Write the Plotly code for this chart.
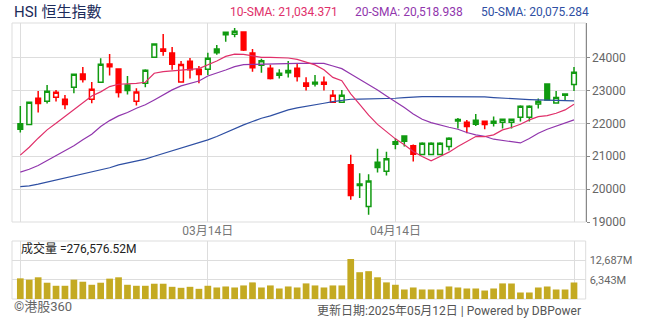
import plotly.graph_objects as go

# ---- daily bars (index 0 .. 62) ----
idx = list(range(63))

opens = [21986, 21965, 22766, 22674, 22796, 22735, 23100, 23505, 22735, 23252,
         23808, 23657, 23171, 22674, 23221, 24011, 24193, 24143, 23262, 23889,
         23646, 23646, 24264, 24700, 24710, 24781, 24143, 23768, 23677, 23525,
         23606, 23677, 23231, 23252, 23252, 22644, 22644, 20739, 20153, 19474,
         20820, 20547, 21367, 21620, 21317, 21054, 21054, 21054, 21297, 22116,
         22035, 22096, 22066, 22066, 22035, 22035, 22187, 22187, 22593, 23201,
         22624, 22897, 23181]
highs = [22533, 22643, 22988, 23171, 23019, 22867, 23495, 23717, 23262, 23980,
         24112, 23657, 23444, 23069, 23647, 24420, 24720, 24325, 23900, 23991,
         23748, 24153, 24386, 24771, 24902, 24781, 24264, 23970, 23788, 23646,
         23900, 23829, 23403, 23474, 23424, 23019, 23019, 21043, 20486, 20456,
         21225, 21135, 21549, 21620, 21357, 21428, 21428, 21428, 21580, 22167,
         22106, 22289, 22066, 22208, 22126, 22126, 22552, 22552, 22755, 23221,
         22988, 22917, 23717]
lows = [21723, 21965, 22330, 22604, 22664, 22431, 22917, 23241, 22613, 23252,
        23454, 22786, 22877, 22542, 23100, 24011, 24062, 23636, 23241, 23363,
        23221, 23474, 24092, 24487, 24619, 24204, 23575, 23545, 23333, 23363,
        23394, 23272, 22998, 23120, 22998, 22644, 22644, 19676, 19727, 19221,
        20506, 20415, 21215, 21297, 20841, 21054, 21054, 21054, 21175, 21843,
        21701, 21924, 21823, 21904, 21843, 21843, 22056, 22056, 22451, 22694,
        22604, 22694, 22988]
closes = [21824, 22643, 22604, 22978, 22948, 22573, 23495, 23333, 23039, 23798,
          23727, 22938, 22998, 22958, 23616, 24416, 24264, 23800, 23795, 23636,
          23485, 23980, 24153, 24771, 24801, 24234, 23697, 23909, 23363, 23464,
          23545, 23424, 23130, 23201, 23191, 22857, 22857, 19808, 20112, 20244,
          20658, 20922, 21438, 21459, 21064, 21398, 21398, 21398, 21549, 22076,
          21904, 21975, 21968, 22005, 22126, 22126, 22522, 22522, 22674, 22715,
          22786, 22857, 23555]

# turnover, millions
volume_m = [6780, 6340, 7120, 5340, 4340, 4340, 6340, 5670, 4670, 5340,
            6680, 7120, 4670, 4340, 4340, 5010, 5010, 4000, 3670, 4000,
            3340, 4340, 3780, 4110, 3780, 4450, 5450, 3780, 4450, 3450,
            4110, 3780, 5120, 4450, 3780, 4450, 4450, 13130, 8790, 9130,
            7120, 5450, 4670, 3120, 3780, 3120, 3120, 3120, 4110, 3780,
            3450, 3450, 2780, 3450, 5120, 5120, 2110, 2110, 3780, 4110,
            3120, 3120, 5450]

sma10 = [21034.371, 21276, 21550, 21803, 22005, 22208, 22431, 22613, 22836, 22960,
         23120, 23191, 23201, 23221, 23252, 23525, 23576, 23606, 23626, 23646,
         23666, 23778, 23900, 24040, 24110, 24100, 24050, 24010, 24010, 24010,
         23990, 23950, 23860, 23780, 23630, 23400, 23300, 22900, 22580, 22250,
         21970, 21740, 21530, 21347, 21145, 20993, 20861, 20993, 21125, 21297,
         21449, 21600, 21600, 21651, 21803, 21874, 21975, 22106, 22208, 22238,
         22309, 22410, 22583]
sma20 = [20518.938, 20605, 20720, 20870, 21045, 21180, 21320, 21500, 21670, 21905,
         22085, 22228, 22330, 22460, 22565, 22715, 22870, 23020, 23140, 23220,
         23290, 23444, 23525, 23626, 23727, 23788, 23798, 23808, 23808, 23818,
         23828, 23828, 23828, 23828, 23828, 23747, 23666, 23505, 23343, 23201,
         23019, 22836, 22670, 22481, 22289, 22126, 22025, 21944, 21884, 21823,
         21722, 21651, 21610, 21519, 21479, 21438, 21405, 21540, 21702, 21823,
         21924, 22005, 22106]
sma50 = [20075.284, 20100, 20152, 20212, 20284, 20344, 20405, 20466, 20527, 20587,
         20650, 20739, 20790, 20841, 20912, 21000, 21080, 21160, 21250, 21330,
         21410, 21499, 21600, 21722, 21833, 21955, 22056, 22157, 22228, 22330,
         22411, 22471, 22512, 22562, 22613, 22664, 22704, 22735, 22740, 22745,
         22748, 22755, 22765, 22786, 22806, 22816, 22816, 22816, 22816, 22816,
         22816, 22816, 22806, 22786, 22765, 22745, 22735, 22725, 22715, 22705,
         22695, 22685, 22685]

tick_idx = [0, 21, 42, 62]
tick_text = ["", "03月14日", "04月14日", ""]
price_ticks = [19000, 20000, 21000, 22000, 23000, 24000]
vol_ticks = [6343, 12687]
vol_tick_text = ["6,343M", "12,687M"]

GREEN = "#109a10"
RED = "#ff0000"
FONT = "Roboto, 'Noto Sans CJK TC', sans-serif"
W, H = 654, 325

fig = go.Figure()

# moving averages
for vals, color in [(sma50, "#2e4fa3"), (sma20, "#9136ad"), (sma10, "#e0306a")]:
    fig.add_trace(go.Scatter(x=idx, y=vals, mode="lines",
                             line=dict(color=color, width=1.2),
                             hoverinfo="skip", showlegend=False,
                             xaxis="x", yaxis="y"))

# candles: colour by change vs previous close, hollow when close > open
groups = {}
for i in idx:
    up = i == 0 or closes[i] >= closes[i - 1]
    hollow = closes[i] > opens[i]
    groups.setdefault((up, hollow), []).append(i)

for (up, hollow), members in groups.items():
    col = GREEN if up else RED
    fill = "#ffffff" if hollow else col
    style = dict(line=dict(color=col, width=1.5), fillcolor=fill)
    fig.add_trace(go.Candlestick(
        x=members,
        open=[opens[i] for i in members],
        high=[highs[i] for i in members],
        low=[lows[i] for i in members],
        close=[closes[i] for i in members],
        increasing=style, decreasing=style,
        whiskerwidth=0, showlegend=False, hoverinfo="skip",
        xaxis="x", yaxis="y"))

# turnover bars
fig.add_trace(go.Bar(x=idx, y=volume_m, marker=dict(color="#c4aa22", line=dict(width=0)),
                     width=0.75, showlegend=False, hoverinfo="skip",
                     xaxis="x2", yaxis="y2"))

x_dom = [12 / W, 585.7 / W]
price_dom = [(H - 222) / H, (H - 23) / H]
vol_dom = [(H - 299) / H, (H - 241) / H]
x_range = [-0.93, 63.31]

fig.update_layout(
    template="none",
    width=W, height=H,
    margin=dict(l=0, r=0, t=0, b=0, pad=0, autoexpand=False),
    paper_bgcolor="white", plot_bgcolor="white",
    font=dict(family=FONT),
    boxgap=0.25,
    xaxis=dict(domain=x_dom, range=x_range, anchor="y", automargin=False,
               tickmode="array", tickvals=tick_idx, ticktext=tick_text,
               ticks="", showgrid=True, gridcolor="#dddddd", gridwidth=1,
               zeroline=False, showline=False,
               tickfont=dict(size=12, color="#777777"),
               rangeslider=dict(visible=False)),
    xaxis2=dict(domain=x_dom, range=x_range, anchor="y2", matches="x", automargin=False,
                tickmode="array", tickvals=tick_idx, showticklabels=False,
                ticks="", showgrid=True, gridcolor="#dddddd", gridwidth=1,
                zeroline=False, showline=False),
    yaxis=dict(domain=price_dom, range=[19000, 25055], side="right", anchor="x",
               automargin=False,
               tickmode="array", tickvals=price_ticks,
               ticktext=[str(v) for v in price_ticks],
               ticks="outside", ticklen=3, tickcolor="#888888",
               showline=True, linecolor="#888888", linewidth=1,
               showgrid=True, gridcolor="#dddddd", zeroline=False,
               tickfont=dict(size=12, color="#666666")),
    yaxis2=dict(domain=vol_dom, range=[0, 19030], side="right", anchor="x2",
                automargin=False,
                tickmode="array", tickvals=vol_ticks, ticktext=vol_tick_text,
                ticks="", ticklabelstandoff=3, showline=False,
                showgrid=True, gridcolor="#dddddd", zeroline=False,
                tickfont=dict(size=11, color="#666666")),
)

# panel frames
for xr, yr in [("x domain", "y domain"), ("x2 domain", "y2 domain")]:
    fig.add_shape(type="rect", xref=xr, yref=yr, x0=0, x1=1, y0=0, y1=1,
                  line=dict(color="#dddddd", width=1), layer="below")

def px_x(p):
    return p / W

def px_y(p):
    return 1 - p / H

notes = [
    (12, 12.5, "HSI 恒生指數", 15, "#1c2b5a", "left"),
    (228, 12.5, f"10-SMA: {sma10[0]:,.3f}", 12, "#e0306a", "left"),
    (353, 12.5, f"20-SMA: {sma20[0]:,.3f}", 12, "#9136ad", "left"),
    (479, 12.5, f"50-SMA: {sma50[0]:,.3f}", 12, "#2e4fa3", "left"),
    (19, 248, "成交量 =276,576.52M", 12, "#222222", "left"),
    (12, 306, "©港股360", 13, "#666666", "left"),
    (583, 310, "更新日期:2025年05月12日 | Powered by DBPower", 12, "#555555", "right"),
]
for x, y, text, size, color, anchor in notes:
    fig.add_annotation(x=px_x(x), y=px_y(y), xref="paper", yref="paper",
                       text=text, showarrow=False, xanchor=anchor, yanchor="middle",
                       font=dict(size=size, color=color, family=FONT))

fig.write_html("out.html")
